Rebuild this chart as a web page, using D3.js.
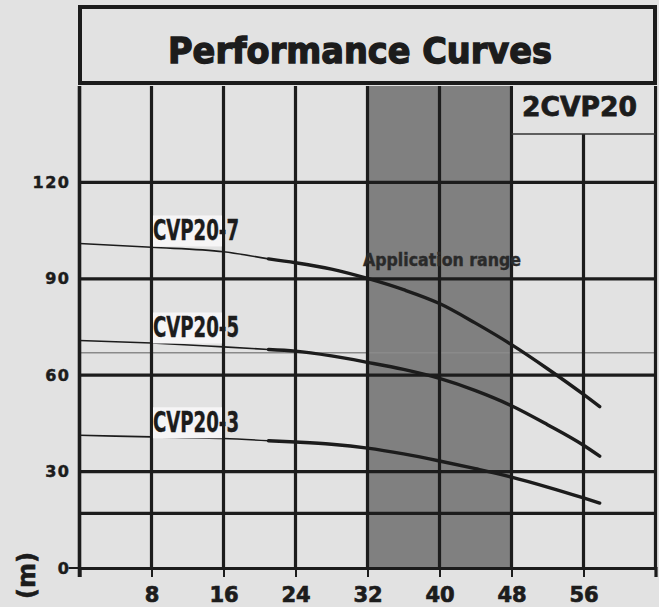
<!DOCTYPE html>
<html><head><meta charset="utf-8">
<script src="https://cdn.jsdelivr.net/npm/d3@7"></script>
<style>
html,body{margin:0;padding:0;background:#e2e2e2;}
svg{display:block;}
</style></head>
<body>
<script>
// ---- data ----
const flows   = [0, 8, 16, 21, 24, 28, 32, 36, 40, 44, 48, 52, 56, 57.8];
const cvp20_7 = [101, 99.8, 98.4, 96.2, 95, 93, 90.1, 86.6, 82.3, 76.2, 69.5, 62.0, 54.0, 50.2];
const cvp20_5 = [70.8, 70, 68.8, 68, 67.5, 66, 64, 61.8, 59, 55.2, 50.5, 44.6, 38.2, 34.8];
const cvp20_3 = [41.3, 40.8, 40.3, 39.6, 39.2, 38.5, 37.3, 35.5, 33.3, 30.9, 28.3, 25.2, 21.8, 20.2];
const seriesNames = ["CVP20-7", "CVP20-5", "CVP20-3"];
const xTicks = [8, 16, 24, 32, 40, 48, 56];
const yTicks = [0, 30, 60, 90, 120];
const yGrid = [30, 60, 90, 120, 17];
const yThinRef = [67];
const appRange = [32, 48];
const title = "Performance Curves";
const modelName = "2CVP20";
const yTitle = "Q (m)";
const appLabel = "Application range";

// ---- layout ----
const W = 659, H = 607;
const dark = "#1c1c1c";
const heavy = "DejaVu Sans, Liberation Sans, sans-serif";
const svg = d3.select("body").append("svg").attr("width", W).attr("height", H);
svg.append("rect").attr("width", W).attr("height", H).attr("fill", "#e2e2e2");

const x = d3.scaleLinear().domain([0, 64]).range([79.5, 655.5]);
const y = d3.scaleLinear().domain([0, 150]).range([568, 86]);

// application range shade
svg.append("rect")
  .attr("x", x(appRange[0])).attr("y", y(150))
  .attr("width", x(appRange[1]) - x(appRange[0]))
  .attr("height", y(0) - y(150))
  .attr("fill", "#808080");

// thin reference line
svg.selectAll(".thinref").data(yThinRef).enter().append("line")
  .attr("x1", x(0)).attr("x2", x(64))
  .attr("y1", d => y(d)).attr("y2", d => y(d))
  .attr("stroke", "#8a8a8a").attr("stroke-width", 1.5);

// horizontal grid
svg.selectAll(".hg").data(yGrid).enter().append("line")
  .attr("x1", x(0)).attr("x2", x(64))
  .attr("y1", d => y(d)).attr("y2", d => y(d))
  .attr("stroke", dark).attr("stroke-width", 3.2);

// vertical grid
svg.selectAll(".vg").data(xTicks.concat([64])).enter().append("line")
  .attr("x1", d => x(d)).attr("x2", d => x(d))
  .attr("y1", y(150)).attr("y2", y(0))
  .attr("stroke", dark).attr("stroke-width", 3.2);

// x axis
const xAxis = d3.axisBottom(x).tickValues([0].concat(xTicks).concat([64])).tickSize(9).tickFormat(d => xTicks.includes(d) ? d : "");
const gx = svg.append("g").attr("transform", `translate(0,${y(0)})`).call(xAxis);
gx.select(".domain").attr("stroke", dark).attr("stroke-width", 3.2);
gx.selectAll(".tick line").attr("stroke", dark).attr("stroke-width", 2);
gx.selectAll(".tick text")
  .attr("font-family", heavy)
  .attr("font-weight", "bold").attr("font-size", 21)
  .attr("stroke", dark).attr("stroke-width", 0.7)
  .attr("fill", dark).attr("dy", 0).attr("y", 34);

// y axis
const yAxis = d3.axisLeft(y).tickValues(yTicks).tickSize(0).tickPadding(9);
const gy = svg.append("g").attr("transform", `translate(${x(0)},0)`).call(yAxis);
gy.select(".domain").remove();
gy.selectAll(".tick text")
  .attr("font-family", heavy)
  .attr("font-weight", "bold").attr("font-size", 16)
  .attr("letter-spacing", 1.5)
  .attr("stroke", dark).attr("stroke-width", 0.5)
  .attr("fill", dark);
// zero tick
svg.append("line").attr("x1", x(0) - 11).attr("x2", x(0)).attr("y1", y(0)).attr("y2", y(0))
  .attr("stroke", dark).attr("stroke-width", 2);
// left axis line
svg.append("line").attr("x1", x(0)).attr("x2", x(0)).attr("y1", y(150)).attr("y2", y(0) + 9)
  .attr("stroke", dark).attr("stroke-width", 3.6);

// y title (cut off at bottom, as in the reference)
svg.append("text")
  .attr("transform", `translate(35,552) rotate(-90)`)
  .attr("text-anchor", "end")
  .attr("font-family", heavy)
  .attr("font-weight", "bold").attr("font-size", 24)
  .attr("stroke", dark).attr("stroke-width", 0.6)
  .attr("fill", dark).text(yTitle);

// curves
const allSeries = [cvp20_7, cvp20_5, cvp20_3];
const line = d3.line().x(d => x(d[0])).y(d => y(d[1])).curve(d3.curveMonotoneX);
allSeries.forEach((vals) => {
  const pts = flows.map((f, i) => [f, vals[i]]);
  svg.append("path").attr("d", line(pts.slice(0, 4)))
    .attr("fill", "none").attr("stroke", dark).attr("stroke-width", 1.6);
  svg.append("path").attr("d", line(pts.slice(3)))
    .attr("fill", "none").attr("stroke", dark).attr("stroke-width", 3.4)
    .attr("stroke-linecap", "round");
});

// curve labels
allSeries.forEach((vals, i) => {
  const base = y(vals[0]) - 3;
  svg.append("rect")
    .attr("x", x(8) + 1.5).attr("y", base - 25)
    .attr("width", x(16) - x(8) - 3).attr("height", 31)
    .attr("fill", "#f6f5f6");
  svg.append("text")
    .attr("x", x(8) + 1.5).attr("y", base)
    .attr("font-family", "Liberation Sans Narrow, DejaVu Sans Condensed, sans-serif")
    .attr("font-weight", "bold").attr("font-size", 28)
    .attr("textLength", 86).attr("lengthAdjust", "spacingAndGlyphs")
    .attr("stroke", dark).attr("stroke-width", 0.4)
    .attr("fill", dark).text(seriesNames[i]);
});

// application range label
svg.append("text")
  .attr("x", 363).attr("y", 266)
  .attr("font-family", heavy)
  .attr("font-weight", "bold").attr("font-size", 17)
  .attr("textLength", 158).attr("lengthAdjust", "spacingAndGlyphs")
  .attr("stroke", "#2a2a2a").attr("stroke-width", 0.4)
  .attr("fill", "#2a2a2a").text(appLabel);

// model box
svg.append("rect")
  .attr("x", x(48) + 1.6).attr("y", 86)
  .attr("width", x(64) - x(48) - 3.2).attr("height", 48)
  .attr("fill", "#e2e2e2");
svg.append("line").attr("x1", x(48)).attr("x2", x(64)).attr("y1", 134).attr("y2", 134)
  .attr("stroke", "#333").attr("stroke-width", 1.5);
svg.append("text")
  .attr("x", 522).attr("y", 116)
  .attr("font-family", heavy)
  .attr("font-weight", "bold").attr("font-size", 26)
  .attr("textLength", 115).attr("lengthAdjust", "spacingAndGlyphs")
  .attr("stroke", dark).attr("stroke-width", 0.8)
  .attr("fill", dark).text(modelName);

// title box
svg.append("rect")
  .attr("x", 80).attr("y", 7)
  .attr("width", 575).attr("height", 76)
  .attr("fill", "#e2e2e2").attr("stroke", dark).attr("stroke-width", 4);
svg.append("text")
  .attr("x", 168).attr("y", 63)
  .attr("font-family", heavy)
  .attr("font-weight", "bold").attr("font-size", 36)
  .attr("textLength", 384).attr("lengthAdjust", "spacingAndGlyphs")
  .attr("stroke", dark).attr("stroke-width", 1.4)
  .attr("fill", dark).text(title);
</script>
</body></html>
